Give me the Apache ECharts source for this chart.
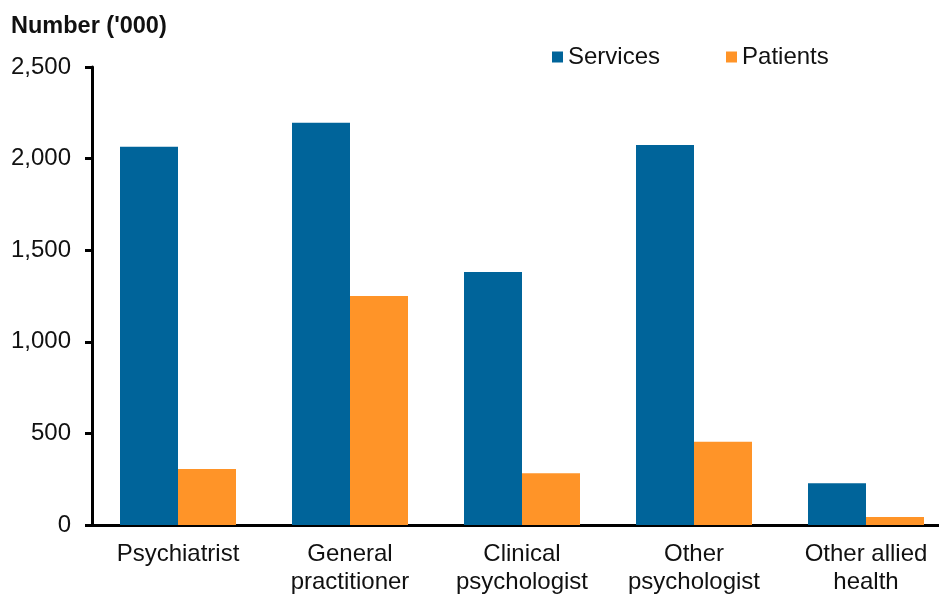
<!DOCTYPE html>
<html>
<head>
<meta charset="utf-8">
<script src="https://cdn.jsdelivr.net/npm/echarts@6/dist/echarts.min.js"></script>
<style>html,body{margin:0;padding:0;background:#fff;}#c{width:939px;height:594px;}</style>
</head>
<body>
<div id="c"></div>
<script>
const categories = ['Psychiatrist', 'General\npractitioner', 'Clinical\npsychologist', 'Other\npsychologist', 'Other allied\nhealth'];
const services = [2065, 2196, 1381, 2074, 228];
const patients = [306, 1250, 282, 455, 44];
const yTicks = [0, 500, 1000, 1500, 2000, 2500];

const chart = echarts.init(document.getElementById('c'));
const font = 'Liberation Sans, Arial, sans-serif';
chart.setOption({
  animation: false,
  backgroundColor: '#fff',
  title: {
    text: "Number ('000)", left: 6, top: 10,
    textStyle: { fontFamily: font, fontSize: 23.5, fontWeight: 'bold', color: '#111' }
  },
  legend: {
    left: 547, top: 40, itemWidth: 11, itemHeight: 11, itemGap: 66,
    icon: 'rect',
    textStyle: { fontFamily: font, fontSize: 24, color: '#111' },
    data: ['Services', 'Patients']
  },
  grid: { left: 92, top: 67, width: 860, height: 458, containLabel: false, outerBoundsMode: 'none' },
  xAxis: {
    type: 'category', data: categories,
    axisLine: { lineStyle: { color: '#000', width: 3 } },
    axisTick: { show: false },
    axisLabel: { fontFamily: font, fontSize: 24, color: '#111', margin: 15, lineHeight: 28, interval: 0 }
  },
  yAxis: {
    type: 'value', min: 0, max: 2500, interval: 500,
    axisLine: { show: true, lineStyle: { color: '#000', width: 3 } },
    axisTick: { show: true, length: 7, lineStyle: { color: '#000', width: 3 } },
    splitLine: { show: false },
    axisLabel: {
      fontFamily: font, fontSize: 24, color: '#111', margin: 21,
      formatter: v => yTicks.includes(v) ? v.toLocaleString('en-US') : ''
    }
  },
  series: [
    { name: 'Services', type: 'bar', data: services, barWidth: 58, barGap: '0%', itemStyle: { color: '#00649A' } },
    { name: 'Patients', type: 'bar', data: patients, barWidth: 58, barGap: '0%', itemStyle: { color: '#FF9428' } }
  ]
});
</script>
</body>
</html>
